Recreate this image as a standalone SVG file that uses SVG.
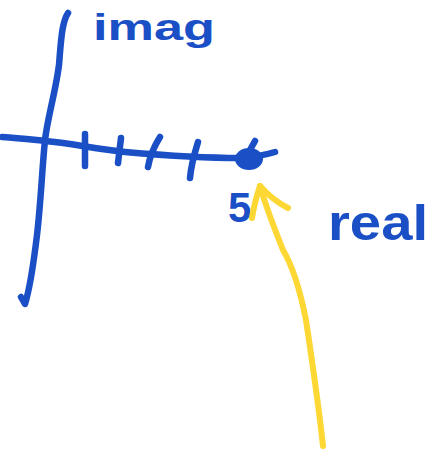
<svg xmlns="http://www.w3.org/2000/svg" width="439" height="457" viewBox="0 0 439 457">
<style>
.ink{fill:none;stroke:#1a4fc6;stroke-width:6.5;stroke-linecap:round;stroke-linejoin:round}
.hl{fill:none;stroke:#fdd835;stroke-width:6;stroke-linecap:round;stroke-linejoin:round}
.lbl{font-family:"Liberation Sans",Arial,sans-serif;font-weight:bold;fill:#1a4fc6}
</style>
<rect width="439" height="457" fill="#ffffff"/>
<g id="axes">
<path class="ink" d="M68,13 C62,22 61,40 59,65 C55,95 48,115 45,140 C42,170 41,200 37,235 C34,260 31,285 25,304 L21,297"/>
<path class="ink" d="M2,137 C20,138 35,140 45,141 C70,143 95,149 125,152 C160,155 195,158 240,158 C255,157 265,155 275,152"/>
</g>
<g id="ticks">
<path class="ink" d="M85,134 L85,166"/>
<path class="ink" d="M121,138 L118,163"/>
<path class="ink" d="M160,137 C155,145 150,155 148,167"/>
<path class="ink" d="M198,142 C194,155 191,165 190,178"/>
</g>
<g id="point">
<ellipse cx="249" cy="159" rx="14" ry="11" fill="#1a4fc6"/>
<path class="ink" d="M250,150 L255,141"/>
</g>
<g id="labels">
<text class="lbl" x="93" y="40" font-size="37" textLength="122" lengthAdjust="spacingAndGlyphs">imag</text>
<text class="lbl" x="228" y="222" font-size="42">5</text>
<text class="lbl" x="328" y="240" font-size="50" textLength="100" lengthAdjust="spacingAndGlyphs">real</text>
</g>
<g id="connectors">
<path class="hl" d="M323,446 C318,400 312,360 306,320 C300,290 292,265 283,250 C275,230 267,210 260,186"/>
<path class="hl" d="M252,218 C254,205 257,195 260,186 C268,195 278,203 288,208"/>
</g>
</svg>
